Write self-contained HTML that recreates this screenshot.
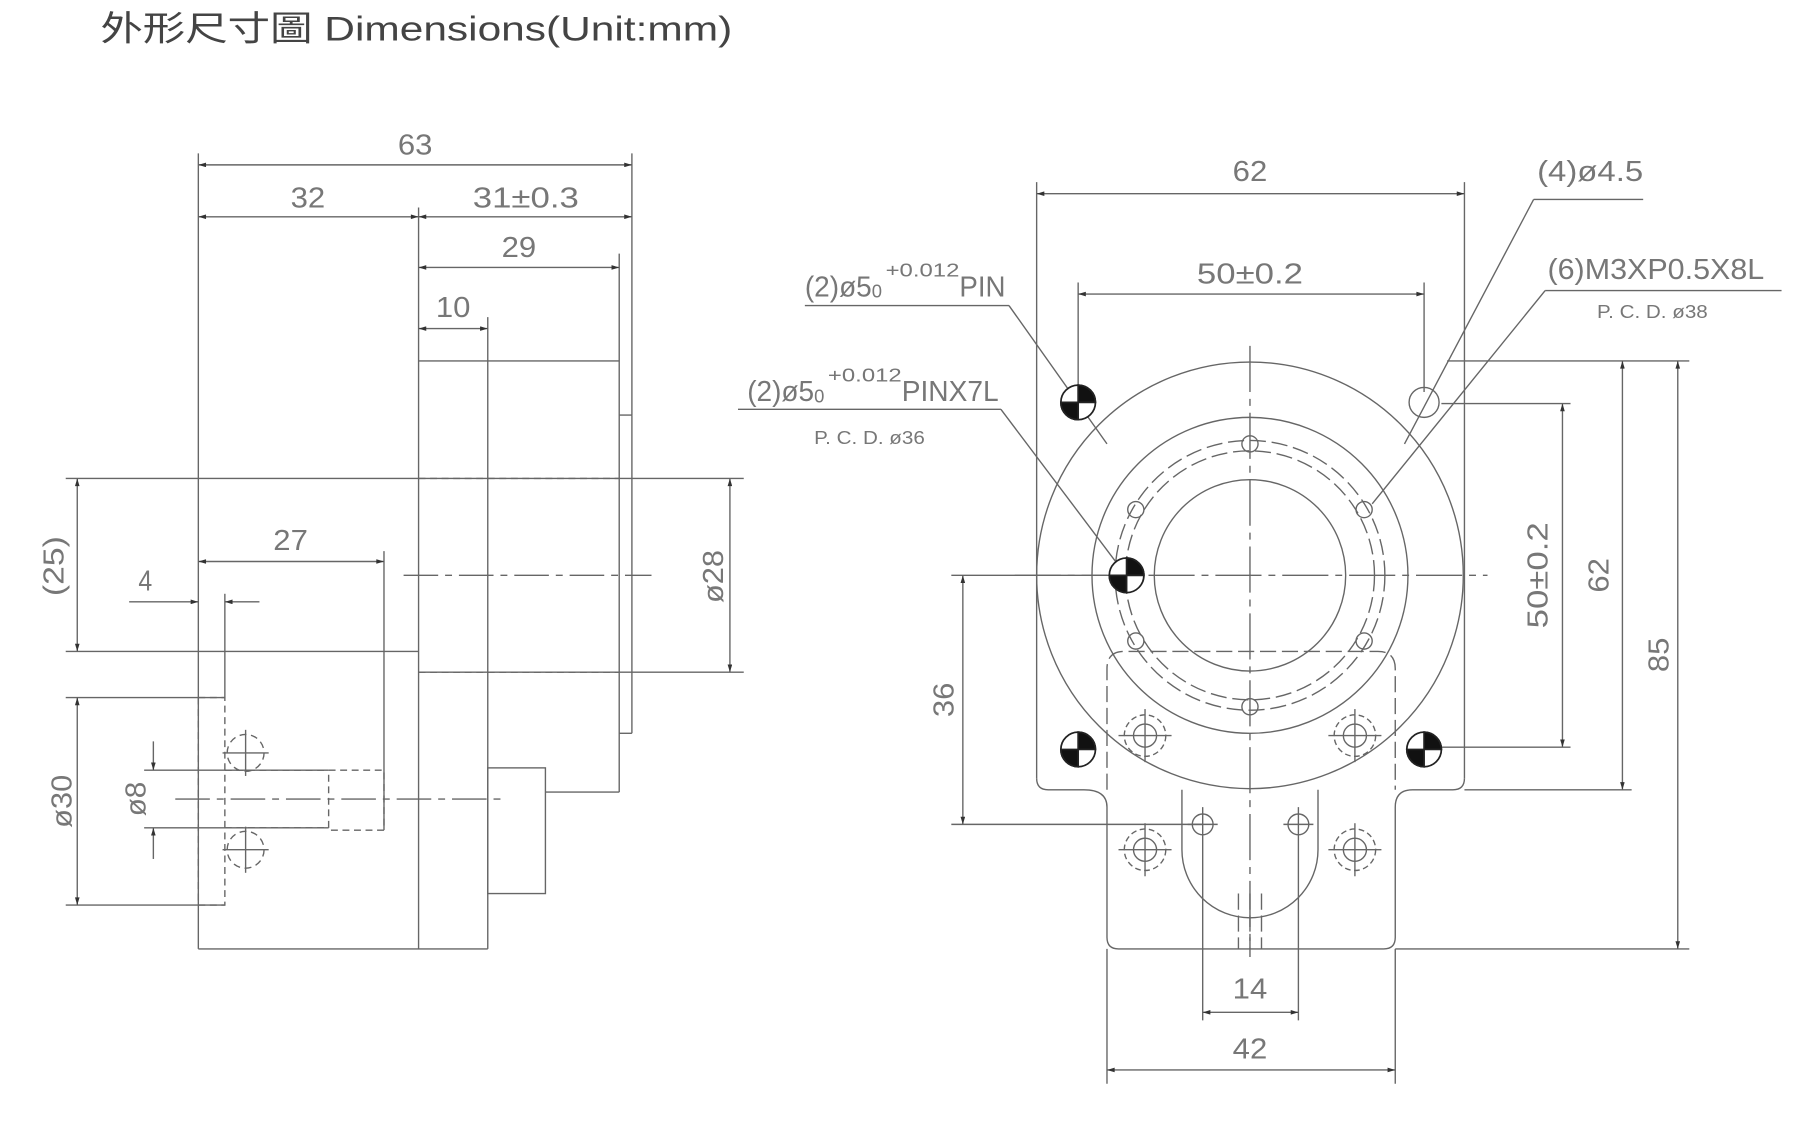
<!DOCTYPE html>
<html><head><meta charset="utf-8"><style>
html,body{margin:0;padding:0;background:#fff;}
svg{display:block}
text{font-family:"Liberation Sans",sans-serif;fill:#777;}
</style></head><body>
<svg width="1800" height="1123" viewBox="0 0 1561 974" preserveAspectRatio="none" xmlns="http://www.w3.org/2000/svg">
<defs>
<marker id="a" viewBox="0 0 10 6" refX="10" refY="3" markerWidth="10" markerHeight="4" orient="auto-start-reverse" markerUnits="userSpaceOnUse"><path d="M0,0L10,3L0,6z" fill="#333"/></marker>
</defs>
<text x="87" y="35" textLength="548" lengthAdjust="spacingAndGlyphs" style="font-family:'Liberation Sans','Noto Sans CJK TC',sans-serif;font-size:30px;fill:#444">外形尺寸圖 Dimensions(Unit:mm)</text>
<g stroke="#666" stroke-width="1.2" fill="none">
<line x1="172" y1="133" x2="172" y2="823"/>
<line x1="172" y1="823" x2="423" y2="823"/>
<line x1="548" y1="133" x2="548" y2="360"/>
<line x1="363" y1="180" x2="363" y2="823"/>
<line x1="537" y1="220" x2="537" y2="687"/>
<line x1="548" y1="360" x2="548" y2="636"/>
<line x1="537" y1="360" x2="548" y2="360"/>
<line x1="537" y1="636" x2="548" y2="636"/>
<line x1="363" y1="313" x2="537" y2="313"/>
<line x1="423" y1="275" x2="423" y2="823"/>
<line x1="473" y1="687" x2="537" y2="687"/>
<rect x="423" y="666" width="50" height="109"/>
<line x1="57" y1="565" x2="363" y2="565"/>
<line x1="57" y1="415" x2="363" y2="415"/>
<line x1="363" y1="415" x2="645" y2="415"/>
<line x1="363" y1="583" x2="645" y2="583"/>
<line x1="57" y1="605" x2="195" y2="605"/>
<line x1="57" y1="785" x2="195" y2="785"/>
<line x1="125" y1="668" x2="285" y2="668"/>
<line x1="125" y1="718" x2="285" y2="718"/>
<line x1="333" y1="478" x2="333" y2="720"/>
<line x1="195" y1="515" x2="195" y2="605"/>
<g stroke-dasharray="6,4">
<line x1="363" y1="415" x2="537" y2="415"/>
<line x1="363" y1="583" x2="537" y2="583"/>
<rect x="172" y="605" width="23" height="180"/>
<rect x="285" y="668" width="48" height="52"/>
<line x1="195" y1="668" x2="285" y2="668"/>
<line x1="195" y1="718" x2="285" y2="718"/>
<circle cx="213" cy="653" r="16"/>
<circle cx="213" cy="737" r="16"/>
</g>
<line x1="213" y1="633" x2="213" y2="673"/><line x1="193" y1="653" x2="233" y2="653"/>
<line x1="213" y1="717" x2="213" y2="757"/><line x1="193" y1="737" x2="233" y2="737"/>
<g stroke-dasharray="30,6,6,6"><line x1="350" y1="499" x2="565" y2="499"/><line x1="152" y1="693" x2="440" y2="693"/></g>
<g marker-start="url(#a)" marker-end="url(#a)">
<line x1="172" y1="143" x2="548" y2="143"/>
<line x1="172" y1="188" x2="363" y2="188"/>
<line x1="363" y1="188" x2="548" y2="188"/>
<line x1="363" y1="232" x2="537" y2="232"/>
<line x1="363" y1="285" x2="423" y2="285"/>
<line x1="67" y1="415" x2="67" y2="565"/>
<line x1="633" y1="415" x2="633" y2="583"/>
<line x1="172" y1="487" x2="333" y2="487"/>
<line x1="67" y1="605" x2="67" y2="785"/>
</g>
<line x1="112" y1="522" x2="172" y2="522" marker-end="url(#a)"/>
<line x1="225" y1="522" x2="195" y2="522" marker-end="url(#a)"/>
<line x1="133" y1="643" x2="133" y2="668" marker-end="url(#a)"/>
<line x1="133" y1="745" x2="133" y2="718" marker-end="url(#a)"/>

<line x1="899" y1="158" x2="899" y2="675"/>
<line x1="1270" y1="158" x2="1270" y2="675"/>
<path d="M899,675 Q899,685 909,685 L940,685 Q960,685 960,700 L960,813 Q960,823 970,823 L1200,823 Q1210,823 1210,813 L1210,700 Q1210,685 1225,685 L1260,685 Q1270,685 1270,675"/>
<path d="M1025,685 L1025,737 A59,59 0 0 0 1143,737 L1143,685"/>
<circle cx="1084" cy="499" r="185"/>
<circle cx="1084" cy="499" r="137"/>
<circle cx="1084" cy="499" r="83"/>
<g stroke-dasharray="14,5">
<circle cx="1084" cy="499" r="108"/>
<circle cx="1084" cy="499" r="117"/>
<path d="M960,685 L960,580 Q960,565 975,565 L1195,565 Q1210,565 1210,580 L1210,685"/>
<line x1="1074" y1="775" x2="1074" y2="823"/><line x1="1084" y1="775" x2="1084" y2="823"/><line x1="1094" y1="775" x2="1094" y2="823"/>
</g>
<g stroke-dasharray="40,6,6,6">
<line x1="1084" y1="300" x2="1084" y2="830"/>
<line x1="880" y1="499" x2="1290" y2="499"/>
</g>
<circle cx="1084" cy="385" r="7"/><circle cx="1084" cy="613" r="7"/>
<circle cx="985" cy="442" r="7"/><circle cx="1183" cy="442" r="7"/>
<circle cx="985" cy="556" r="7"/><circle cx="1183" cy="556" r="7"/>
<circle cx="1235" cy="349" r="13"/>
<circle cx="1043" cy="715" r="9"/><circle cx="1126" cy="715" r="9"/>
<line x1="1043" y1="700" x2="1043" y2="885"/><line x1="1126" y1="700" x2="1126" y2="885"/>
<line x1="1030" y1="715" x2="1056" y2="715"/><line x1="1113" y1="715" x2="1139" y2="715"/>
<line x1="960" y1="823" x2="960" y2="940"/><line x1="1210" y1="823" x2="1210" y2="940"/>
<g>
<circle cx="993" cy="638" r="18" stroke-dasharray="5,3"/><circle cx="993" cy="638" r="10"/><line x1="970" y1="638" x2="1016" y2="638"/><line x1="993" y1="615" x2="993" y2="661"/>
<circle cx="1175" cy="638" r="18" stroke-dasharray="5,3"/><circle cx="1175" cy="638" r="10"/><line x1="1152" y1="638" x2="1198" y2="638"/><line x1="1175" y1="615" x2="1175" y2="661"/>
<circle cx="993" cy="737" r="18" stroke-dasharray="5,3"/><circle cx="993" cy="737" r="10"/><line x1="970" y1="737" x2="1016" y2="737"/><line x1="993" y1="714" x2="993" y2="760"/>
<circle cx="1175" cy="737" r="18" stroke-dasharray="5,3"/><circle cx="1175" cy="737" r="10"/><line x1="1152" y1="737" x2="1198" y2="737"/><line x1="1175" y1="714" x2="1175" y2="760"/>
</g>
<line x1="935" y1="245" x2="935" y2="340"/><line x1="1235" y1="245" x2="1235" y2="340"/>
<line x1="1255" y1="313" x2="1465" y2="313"/>
<line x1="1270" y1="685" x2="1415" y2="685"/>
<line x1="1210" y1="823" x2="1465" y2="823"/>
<line x1="1250" y1="350" x2="1362" y2="350"/>
<line x1="1248" y1="648" x2="1362" y2="648"/>
<line x1="825" y1="499" x2="960" y2="499"/>
<line x1="825" y1="715" x2="1043" y2="715"/>
<line x1="640" y1="355" x2="868" y2="355"/><line x1="868" y1="355" x2="975" y2="497"/>
<line x1="698" y1="265" x2="875" y2="265"/><line x1="875" y1="265" x2="960" y2="385"/>
<line x1="1330" y1="173" x2="1425" y2="173"/><line x1="1330" y1="173" x2="1218" y2="385"/>
<line x1="1340" y1="252" x2="1545" y2="252"/><line x1="1340" y1="252" x2="1190" y2="437"/>
<g marker-start="url(#a)" marker-end="url(#a)">
<line x1="899" y1="168" x2="1270" y2="168"/>
<line x1="935" y1="255" x2="1235" y2="255"/>
<line x1="835" y1="499" x2="835" y2="715"/>
<line x1="1355" y1="350" x2="1355" y2="648"/>
<line x1="1407" y1="313" x2="1407" y2="685"/>
<line x1="1455" y1="313" x2="1455" y2="823"/>
<line x1="960" y1="928" x2="1210" y2="928"/>
</g>
<line x1="1043" y1="878" x2="1126" y2="878" marker-start="url(#a)" marker-end="url(#a)"/>
</g>
<g stroke="#222" stroke-width="1.5">
<g transform="translate(935,349)"><circle r="15" fill="#fff"/><path d="M0,0L15,0A15,15 0 0 0 0,-15Z M0,0L-15,0A15,15 0 0 0 0,15Z" fill="#111"/></g>
<g transform="translate(935,650)"><circle r="15" fill="#fff"/><path d="M0,0L15,0A15,15 0 0 0 0,-15Z M0,0L-15,0A15,15 0 0 0 0,15Z" fill="#111"/></g>
<g transform="translate(1235,650)"><circle r="15" fill="#fff"/><path d="M0,0L15,0A15,15 0 0 0 0,-15Z M0,0L-15,0A15,15 0 0 0 0,15Z" fill="#111"/></g>
<g transform="translate(977,499)"><circle r="15" fill="#fff"/><path d="M0,0L15,0A15,15 0 0 0 0,-15Z M0,0L-15,0A15,15 0 0 0 0,15Z" fill="#111"/></g>
</g>
<g font-size="25" lengthAdjust="spacingAndGlyphs">
<text x="345" y="134" textLength="30" lengthAdjust="spacingAndGlyphs">63</text>
<text x="252" y="180" textLength="30" lengthAdjust="spacingAndGlyphs">32</text>
<text x="410" y="180" textLength="92" lengthAdjust="spacingAndGlyphs">31±0.3</text>
<text x="435" y="223" textLength="30" lengthAdjust="spacingAndGlyphs">29</text>
<text x="378" y="275" textLength="30" lengthAdjust="spacingAndGlyphs">10</text>
<text x="237" y="477" textLength="30" lengthAdjust="spacingAndGlyphs">27</text>
<text x="120" y="512" textLength="12" lengthAdjust="spacingAndGlyphs">4</text>
<text transform="translate(55,517) rotate(-90)" textLength="52" lengthAdjust="spacingAndGlyphs">(25)</text>
<text transform="translate(627,523) rotate(-90)" textLength="46" lengthAdjust="spacingAndGlyphs">ø28</text>
<text transform="translate(62,718) rotate(-90)" textLength="46" lengthAdjust="spacingAndGlyphs">ø30</text>
<text transform="translate(126,708) rotate(-90)" textLength="30" lengthAdjust="spacingAndGlyphs">ø8</text>
<text x="1069" y="157" textLength="30" lengthAdjust="spacingAndGlyphs">62</text>
<text x="1038" y="246" textLength="92" lengthAdjust="spacingAndGlyphs">50±0.2</text>
<text x="1333" y="157" textLength="92" lengthAdjust="spacingAndGlyphs">(4)ø4.5</text>
<text x="1342" y="242" textLength="188" lengthAdjust="spacingAndGlyphs">(6)M3XP0.5X8L</text>
<text x="698" y="257" textLength="58" lengthAdjust="spacingAndGlyphs">(2)ø5</text><text x="768" y="240" font-size="16" textLength="64" lengthAdjust="spacingAndGlyphs">+0.012</text><text x="756" y="258" font-size="16">0</text><text x="832" y="257" textLength="40" lengthAdjust="spacingAndGlyphs">PIN</text>
<text x="648" y="348" textLength="58" lengthAdjust="spacingAndGlyphs">(2)ø5</text><text x="718" y="331" font-size="16" textLength="64" lengthAdjust="spacingAndGlyphs">+0.012</text><text x="706" y="349" font-size="16">0</text><text x="782" y="348" textLength="84" lengthAdjust="spacingAndGlyphs">PINX7L</text>
<text transform="translate(1342,545) rotate(-90)" textLength="92" lengthAdjust="spacingAndGlyphs">50±0.2</text>
<text transform="translate(1395,514) rotate(-90)" textLength="30" lengthAdjust="spacingAndGlyphs">62</text>
<text transform="translate(1447,583) rotate(-90)" textLength="30" lengthAdjust="spacingAndGlyphs">85</text>
<text transform="translate(827,622) rotate(-90)" textLength="30" lengthAdjust="spacingAndGlyphs">36</text>
<text x="1069" y="866" textLength="30" lengthAdjust="spacingAndGlyphs">14</text>
<text x="1069" y="918" textLength="30" lengthAdjust="spacingAndGlyphs">42</text>
</g>
<g font-size="16" style="font-family:'Liberation Serif',serif">
<text x="1385" y="276" textLength="96" lengthAdjust="spacingAndGlyphs">P. C. D. ø38</text>
<text x="706" y="385" textLength="96" lengthAdjust="spacingAndGlyphs">P. C. D. ø36</text>
</g>
</svg>
</body></html>
